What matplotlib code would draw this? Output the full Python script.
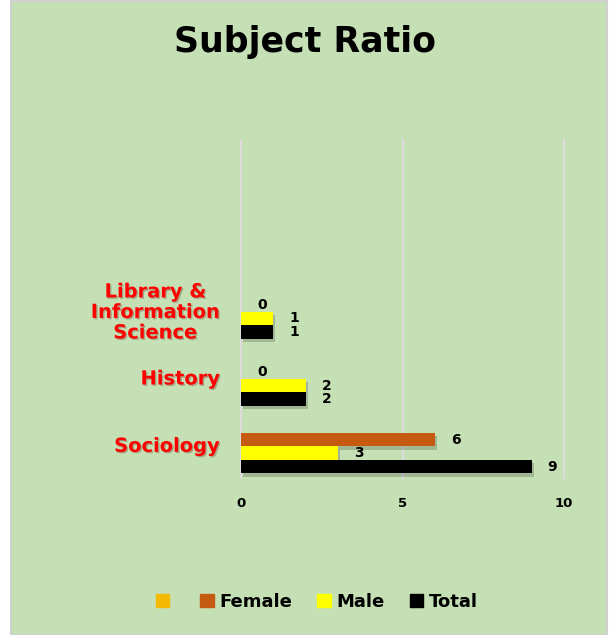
import numpy as np
import matplotlib.pyplot as plt
import matplotlib.patheffects as pe
from matplotlib.patches import Rectangle, Patch

# data (bottom to top on the chart)
subjects = ["Sociology", "History", "Library &\nInformation\nScience"]
female = [6, 0, 0]
male = [3, 2, 1]
total = [9, 2, 1]
x_ticks = [0, 5, 10]

BG = "#c5e0b4"
C_FEMALE = "#c55a11"
C_MALE = "#ffff00"
C_TOTAL = "#000000"
C_BLANK = "#f5b800"

fig = plt.figure(figsize=(6.09, 6.35), dpi=100, facecolor="white")
fig.patches.append(Rectangle((11 / 609, 0), 596 / 609, 634 / 635, transform=fig.transFigure,
                             facecolor=BG, edgecolor="#d0d0d0", lw=1.5, zorder=-10))

ax = fig.add_axes([241 / 609, 1 - 478 / 635, (564 - 241) / 609, (478 - 140) / 635])
ax.set_facecolor("none")

y = np.arange(len(subjects))
h = 0.2
shadow = [pe.SimplePatchShadow(offset=(1.5, -2.5), shadow_rgbFace="black", alpha=0.18), pe.Normal()]

for vals, off, col in [(female, h, C_FEMALE), (male, 0, C_MALE), (total, -h, C_TOTAL)]:
    bars = ax.barh(y + off, vals, height=h, color=col, zorder=3)
    for b, v in zip(bars, vals):
        if v > 0:
            b.set_path_effects(shadow)
        ax.annotate(str(v), (v, b.get_y() + b.get_height() / 2), xytext=(15, 0),
                    textcoords="offset points", ha="center", va="center",
                    fontsize=10, fontweight="bold", color="black", zorder=4)

ax.set_xlim(0, 10)
ax.set_ylim(-0.37, 4.65)
ax.set_xticks(x_ticks)
ax.set_xticklabels([str(t) for t in x_ticks], fontsize=9.5, fontweight="bold")
ax.tick_params(axis="x", length=0, pad=14)
ax.set_yticks(y + 0.13)
ax.set_yticklabels(subjects, fontsize=14, fontweight="bold", color="#ff0000",
                   linespacing=1.1)
ax.tick_params(axis="y", length=0, pad=15)
for lbl in ax.get_yticklabels():
    lbl.set_multialignment("center")
    lbl.set_path_effects([pe.SimplePatchShadow(offset=(1, -1), alpha=0.25), pe.Normal()])
ax.grid(axis="x", color="#dcdcdc", lw=1.6, zorder=0)
for gl in ax.get_xgridlines():
    gl.set_clip_on(False)
for s in ax.spines.values():
    s.set_visible(False)

fig.text(0.5, 1 - 42 / 635, "Subject Ratio", ha="center", va="center",
         fontsize=25, fontweight="bold", color="black")

handles = [Patch(color=C_BLANK), Patch(color=C_FEMALE), Patch(color=C_MALE), Patch(color=C_TOTAL)]
labels = ["", "Female", "Male", "Total"]
fig.legend(handles, labels, loc="center", bbox_to_anchor=(0.52, 1 - 602 / 635), ncol=4,
           frameon=False, handlelength=0.75, handleheight=0.75, handletextpad=0.3,
           columnspacing=1.4, prop={"weight": "bold", "size": 13})

fig.savefig("out.png", dpi=100, facecolor=fig.get_facecolor())
